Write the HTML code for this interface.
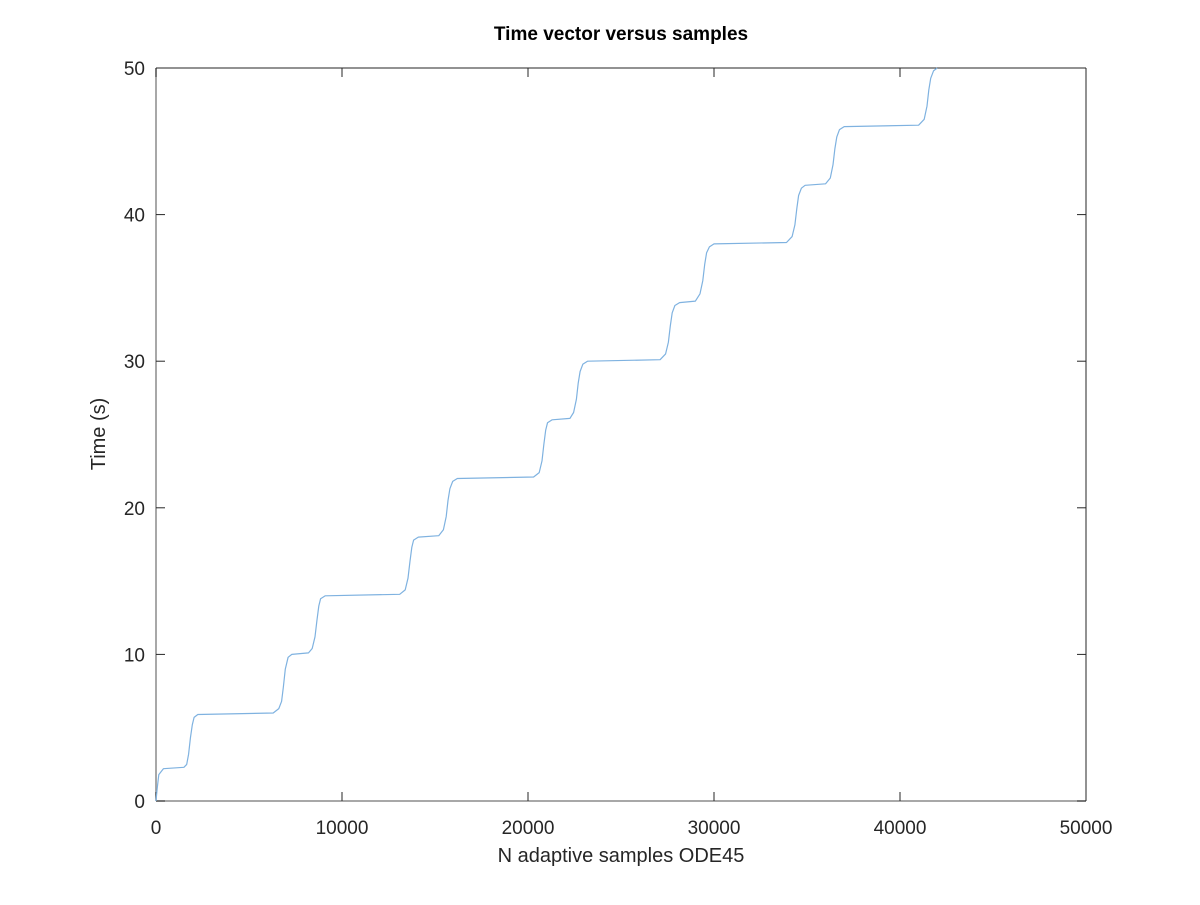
<!DOCTYPE html>
<html><head><meta charset="utf-8"><style>
body{margin:0;background:#fff;}
svg text{font-family:"Liberation Sans",sans-serif;fill:#262626;}
</style></head><body>
<svg id="chart" width="1200" height="900" xmlns="http://www.w3.org/2000/svg">
<rect width="1200" height="900" fill="#fff"/>
<text x="621" y="40" text-anchor="middle" font-size="19" font-weight="bold" style="fill:#000">Time vector versus samples</text>
<g id="axes"></g>
<g id="series"></g>
<text x="621" y="862" text-anchor="middle" font-size="20">N adaptive samples ODE45</text>
<text transform="translate(105,434) rotate(-90)" text-anchor="middle" font-size="20">Time (s)</text>
</svg>
<script>
const xTicks = [0, 10000, 20000, 30000, 40000, 50000];
const yTicks = [0, 10, 20, 30, 40, 50];
const samples = [0,60,150,400,1500,1650,1750,1850,1950,2050,2250,6300,6600,6750,6850,6950,7100,7300,8200,8400,8550,8650,8750,8850,9100,13100,13400,13550,13650,13750,13850,14100,15200,15450,15600,15700,15800,15950,16200,20300,20600,20750,20850,20950,21050,21300,22250,22450,22600,22700,22800,22950,23200,27100,27400,27550,27650,27750,27900,28150,29000,29250,29400,29500,29600,29750,30000,33900,34200,34350,34450,34550,34700,34900,36000,36250,36400,36500,36600,36750,37000,41000,41300,41450,41550,41650,41800,42000];
const times = [0,0.8,1.8,2.2,2.3,2.5,3.2,4.3,5.2,5.7,5.9,6.0,6.3,6.8,7.8,9.0,9.8,10.0,10.1,10.4,11.2,12.3,13.3,13.8,14.0,14.1,14.4,15.2,16.3,17.3,17.8,18.0,18.1,18.5,19.4,20.5,21.3,21.8,22.0,22.1,22.4,23.2,24.3,25.3,25.8,26.0,26.1,26.5,27.4,28.5,29.3,29.8,30.0,30.1,30.5,31.3,32.4,33.3,33.8,34.0,34.1,34.6,35.5,36.6,37.4,37.8,38.0,38.1,38.5,39.3,40.4,41.3,41.8,42.0,42.1,42.5,43.4,44.5,45.3,45.8,46.0,46.1,46.5,47.4,48.5,49.3,49.8,50.0];
const L=156,R=1086,T=68,B=801;
const xs=v=>L+(v-0)/(50000)*(R-L);
const ys=v=>B-(v-0)/50*(B-T);
const NS="http://www.w3.org/2000/svg";
const ax=document.getElementById('axes');
function mk(tag,attrs,parent){const e=document.createElementNS(NS,tag);for(const k in attrs)e.setAttribute(k,attrs[k]);parent.appendChild(e);return e;}
let e;
e=mk('line',{x1:L,y1:T,x2:R,y2:T,stroke:'#262626','stroke-width':1},ax);


e=mk('line',{x1:R,y1:T,x2:R,y2:B,stroke:'#262626','stroke-width':1},ax);


e=mk('line',{x1:L,y1:T,x2:L,y2:B,stroke:'#8c8c8c','stroke-width':1.5},ax);


e=mk('line',{x1:L,y1:B,x2:R,y2:B,stroke:'#8c8c8c','stroke-width':1.5},ax);


xTicks.forEach(v=>{const x=xs(v);
 e=mk('line',{x1:x,y1:B,x2:x,y2:B-9,stroke:'#262626'},ax);
 
 
 e=mk('line',{x1:x,y1:T,x2:x,y2:T+9,stroke:'#262626'},ax);
 
 
 e=mk('text',{x:x,y:B+33,'text-anchor':'middle','font-size':19},ax);e.textContent=v;
 
 
});
yTicks.forEach(v=>{const y=ys(v);
 e=mk('line',{x1:L,y1:y,x2:L+9,y2:y,stroke:'#262626'},ax);
 
 
 e=mk('line',{x1:R,y1:y,x2:R-9,y2:y,stroke:'#262626'},ax);
 
 
 e=mk('text',{x:L-11,y:y+7,'text-anchor':'end','font-size':19},ax);e.textContent=v;
 
 
});
const pts=samples.map((s,i)=>xs(s).toFixed(1)+','+ys(times[i]).toFixed(1)).join(' ');
e=mk('polyline',{points:pts,fill:'none',stroke:'#7fb2e0','stroke-width':1.2,'stroke-linejoin':'round'},document.getElementById('series'));


</script>
</body></html>
